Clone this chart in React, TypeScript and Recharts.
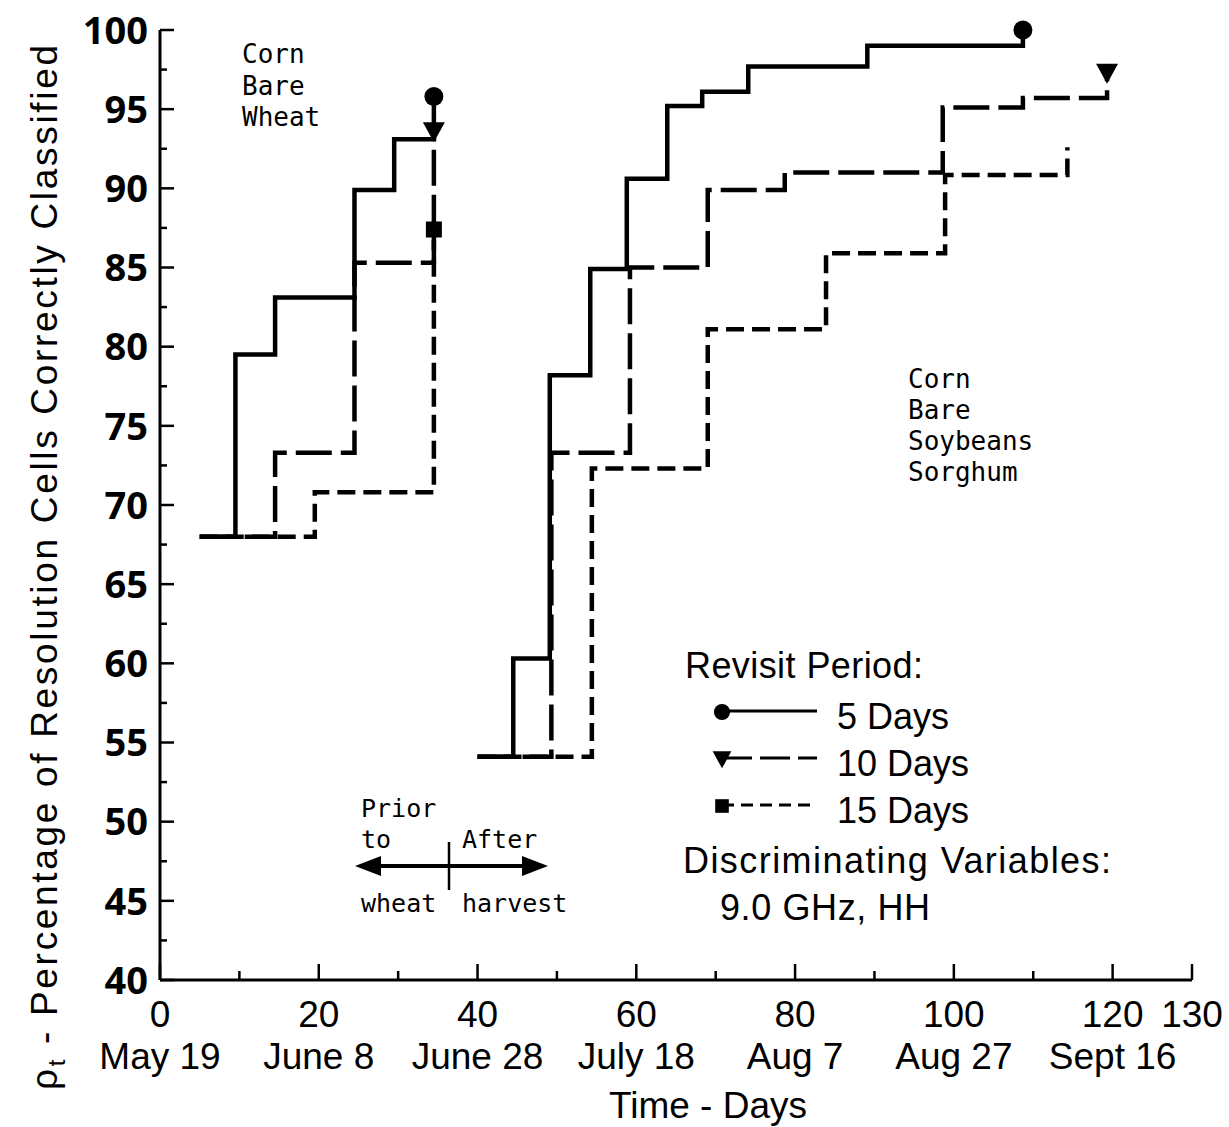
import React from 'react'
import { LineChart, Line, XAxis, YAxis, Legend } from 'recharts'

// days after May 19 vs. percentage of cells correctly classified
// crops: corn / bare / wheat (before wheat harvest)
const daysA5 = [5, 9.5, 14.5, 24.5, 29.5, 34.5]
const pctA5 = [68, 79.5, 83.1, 89.9, 93.1, 95.8]
const daysA10 = [5, 14.5, 24.5, 34.5]
const pctA10 = [68, 73.3, 85.3, 93.6]
const daysA15 = [5, 19.5, 34.5]
const pctA15 = [68, 70.8, 87.4]

// crops: corn / bare / soybeans / sorghum (after wheat harvest)
const daysB5 = [40, 44.5, 49.1, 54.2, 58.8, 63.9, 68.3, 74.1, 89.1, 108.7]
const pctB5 = [54.1, 60.3, 78.2, 84.9, 90.6, 95.2, 96.1, 97.7, 99.0, 100]
const daysB10 = [40, 49.3, 59.2, 69.0, 78.7, 98.6, 108.7, 119.3]
const pctB10 = [54.1, 73.3, 85.0, 89.9, 91.0, 95.1, 95.7, 97.3]
const daysB15 = [40, 54.4, 69.0, 83.9, 98.9, 114.3]
const pctB15 = [54.1, 72.3, 81.1, 85.9, 90.85, 92.6]

const xTicks = [0, 10, 20, 30, 40, 50, 60, 70, 80, 90, 100, 110, 120, 130]
const xLabelTicks = [0, 20, 40, 60, 80, 100, 120, 130]
const dateTicks = [0, 20, 40, 60, 80, 100, 120]
const dateLabels = ['May 19', 'June 8', 'June 28', 'July 18', 'Aug 7', 'Aug 27', 'Sept 16']
const yTicks = [40, 42.5, 45, 47.5, 50, 52.5, 55, 57.5, 60, 62.5, 65, 67.5, 70, 72.5, 75, 77.5, 80, 82.5, 85, 87.5, 90, 92.5, 95, 97.5, 100]
const yLabelTicks = [40, 45, 50, 55, 60, 65, 70, 75, 80, 85, 90, 95, 100]

const legendNames = ['5 Days', '10 Days', '15 Days']

const SANS = "'Liberation Sans', Arial, sans-serif"
const MONO = "'DejaVu Sans Mono', 'Liberation Mono', monospace"
const BOLD = "'Open Sans', 'DejaVu Sans', sans-serif"

const toPoints = (days: number[], pct: number[]) => days.map((d, i) => ({ day: d, pct: pct[i] }))

type Shape = 'circle' | 'triangle' | 'square'

const STYLE: Record<string, { dash?: string; legendDash?: string; shape: Shape }> = {
  '5 Days': { shape: 'circle' },
  '10 Days': { dash: '36 9', legendDash: '30 8', shape: 'triangle' },
  '15 Days': { dash: '18 8', legendDash: '12 7', shape: 'square' },
}

const series = [
  { key: 'a5', name: '5 Days', data: toPoints(daysA5, pctA5), legend: false, marker: true },
  { key: 'a10', name: '10 Days', data: toPoints(daysA10, pctA10), legend: false, marker: true },
  { key: 'a15', name: '15 Days', data: toPoints(daysA15, pctA15), legend: false, marker: true },
  { key: 'b15', name: '15 Days', data: toPoints(daysB15, pctB15), legend: true, marker: false },
  { key: 'b10', name: '10 Days', data: toPoints(daysB10, pctB10), legend: true, marker: true },
  { key: 'b5', name: '5 Days', data: toPoints(daysB5, pctB5), legend: true, marker: true },
]

const Marker = ({ shape, cx, cy, s = 1 }: { shape: Shape; cx: number; cy: number; s?: number }) => {
  if (shape === 'circle') return <circle cx={cx} cy={cy} r={9.5 * s} fill="#000" />
  if (shape === 'triangle')
    return (
      <polygon
        points={`${cx - 11 * s},${cy - 9 * s} ${cx + 11 * s},${cy - 9 * s} ${cx},${cy + 11 * s}`}
        fill="#000"
      />
    )
  return <rect x={cx - 8 * s} y={cy - 8 * s} width={16 * s} height={16 * s} fill="#000" />
}

// only the last point of each step line carries its marker
const makeDot = (shape: Shape, last: number) => (p: any) => {
  if (p.index !== last || p.cx == null) return <g key={`d-${p.index}`} />
  return (
    <g key={`d-${p.index}`}>
      <Marker shape={shape} cx={p.cx} cy={p.cy} />
    </g>
  )
}

const renderXTick = (p: any) => {
  const v = p.payload.value
  const major = v % 20 === 0 || v === 130
  const di = dateTicks.indexOf(v)
  return (
    <g>
      <line x1={p.x} x2={p.x} y1={p.y} y2={p.y - (major ? 16 : 9)} stroke="#000" strokeWidth={2.5} />
      {xLabelTicks.includes(v) && (
        <text x={p.x} y={p.y + 47} textAnchor="middle" fontFamily={SANS} fontSize={37} fill="#000">
          {v}
        </text>
      )}
      {di >= 0 && (
        <text x={p.x} y={p.y + 89} textAnchor="middle" fontFamily={SANS} fontSize={37} fill="#000">
          {dateLabels[di]}
        </text>
      )}
    </g>
  )
}

const renderYTick = (p: any) => {
  const v = p.payload.value
  const major = yLabelTicks.includes(v)
  return (
    <g>
      <line x1={p.x} x2={p.x + (major ? 14 : 7)} y1={p.y} y2={p.y} stroke="#000" strokeWidth={2.5} />
      {major && (
        <text x={p.x - 12} y={p.y} dy="0.36em" textAnchor="end" fontFamily={BOLD} fontWeight={700} fontSize={38} fill="#000">
          {v}
        </text>
      )}
    </g>
  )
}

const renderLegend = (props: any) => {
  const seen = new Set<string>()
  const rows = (props.payload || []).filter((e: any) => {
    if (!legendNames.includes(e.value) || seen.has(e.value)) return false
    seen.add(e.value)
    return true
  })
  rows.sort((a: any, b: any) => legendNames.indexOf(a.value) - legendNames.indexOf(b.value))
  return (
    <svg width={460} height={290} style={{ display: 'block', overflow: 'visible' }}>
      <text x={9} y={38} fontFamily={SANS} fontSize={36} textLength={238} fill="#000">
        Revisit Period:
      </text>
      {rows.map((e: any, i: number) => {
        const st = STYLE[e.value]
        const y = 71 + i * 47
        return (
          <g key={e.value}>
            <line x1={46} x2={141} y1={y} y2={y} stroke="#000" strokeWidth={3} strokeDasharray={st.legendDash} />
            <Marker shape={st.shape} cx={46} cy={y + 1} s={0.85} />
            <text x={161} y={y + 18} fontFamily={SANS} fontSize={36} fill="#000">
              {e.value}
            </text>
          </g>
        )
      })}
      <text x={7} y={233} fontFamily={SANS} fontSize={36} textLength={428} fill="#000">
        Discriminating Variables:
      </text>
      <text x={44} y={280} fontFamily={SANS} fontSize={36} textLength={210} fill="#000">
        9.0 GHz, HH
      </text>
    </svg>
  )
}

export default function App() {
  return (
    <div style={{ position: 'absolute', left: 0, top: 0, width: 1229, height: 1127, background: '#fff' }}>
      <LineChart width={1229} height={1127} margin={{ top: 30, right: 37, bottom: 117, left: 100 }}>
        <XAxis
          type="number"
          dataKey="day"
          domain={[0, 130]}
          ticks={xTicks}
          interval={0}
          height={30}
          tickSize={0}
          tickMargin={0}
          tickLine={false}
          axisLine={{ stroke: '#000', strokeWidth: 3 }}
          tick={renderXTick}
        />
        <YAxis
          type="number"
          dataKey="pct"
          domain={[40, 100]}
          ticks={yTicks}
          interval={0}
          width={60}
          tickSize={0}
          tickMargin={0}
          tickLine={false}
          axisLine={{ stroke: '#000', strokeWidth: 3 }}
          tick={renderYTick}
        />
        {series.map(s => (
          <Line
            key={s.key}
            data={s.data}
            dataKey="pct"
            name={s.name}
            type="stepAfter"
            stroke="#000"
            strokeWidth={4.5}
            strokeDasharray={STYLE[s.name].dash}
            legendType={s.legend ? 'line' : 'none'}
            dot={s.marker ? makeDot(STYLE[s.name].shape, s.data.length - 1) : false}
            activeDot={false}
            isAnimationActive={false}
          />
        ))}
        <Legend
          layout="horizontal"
          verticalAlign="middle"
          align="center"
          wrapperStyle={{ left: 676, top: 640, width: 460, height: 290 }}
          content={renderLegend}
        />
      </LineChart>

      <svg
        width={1229}
        height={1127}
        style={{ position: 'absolute', left: 0, top: 0, pointerEvents: 'none' }}
      >
        {/* y axis title */}
        <text transform="rotate(-90)" x={-1090} y={57} fontFamily={SANS} fontSize={37} textLength={1045} fill="#000">
          <tspan>ρ</tspan>
          <tspan fontSize={24} dy={8}>t</tspan>
          <tspan dy={-8}> - Percentage of Resolution Cells Correctly Classified</tspan>
        </text>
        <text x={708} y={1118} textAnchor="middle" fontFamily={SANS} fontSize={37} fill="#000">
          Time - Days
        </text>

        <g fontFamily={MONO} fontSize={26} fill="#000">
          <text x={242} y={63}>Corn</text>
          <text x={242} y={95}>Bare</text>
          <text x={242} y={126}>Wheat</text>

          <text x={908} y={388}>Corn</text>
          <text x={908} y={419}>Bare</text>
          <text x={908} y={450}>Soybeans</text>
          <text x={908} y={481}>Sorghum</text>
        </g>

        <g fontFamily={MONO} fontSize={25} fill="#000">
          <text x={361} y={817}>Prior</text>
          <text x={361} y={848}>to</text>
          <text x={462} y={848}>After</text>
          <text x={361} y={912}>wheat</text>
          <text x={462} y={912}>harvest</text>
        </g>
        <line x1={370} x2={532} y1={866} y2={866} stroke="#000" strokeWidth={4} />
        <polygon points="355,866 381,856 381,876" fill="#000" />
        <polygon points="548,866 522,856 522,876" fill="#000" />
        <line x1={449} x2={449} y1={842} y2={890} stroke="#000" strokeWidth={2.5} />
      </svg>
    </div>
  )
}
